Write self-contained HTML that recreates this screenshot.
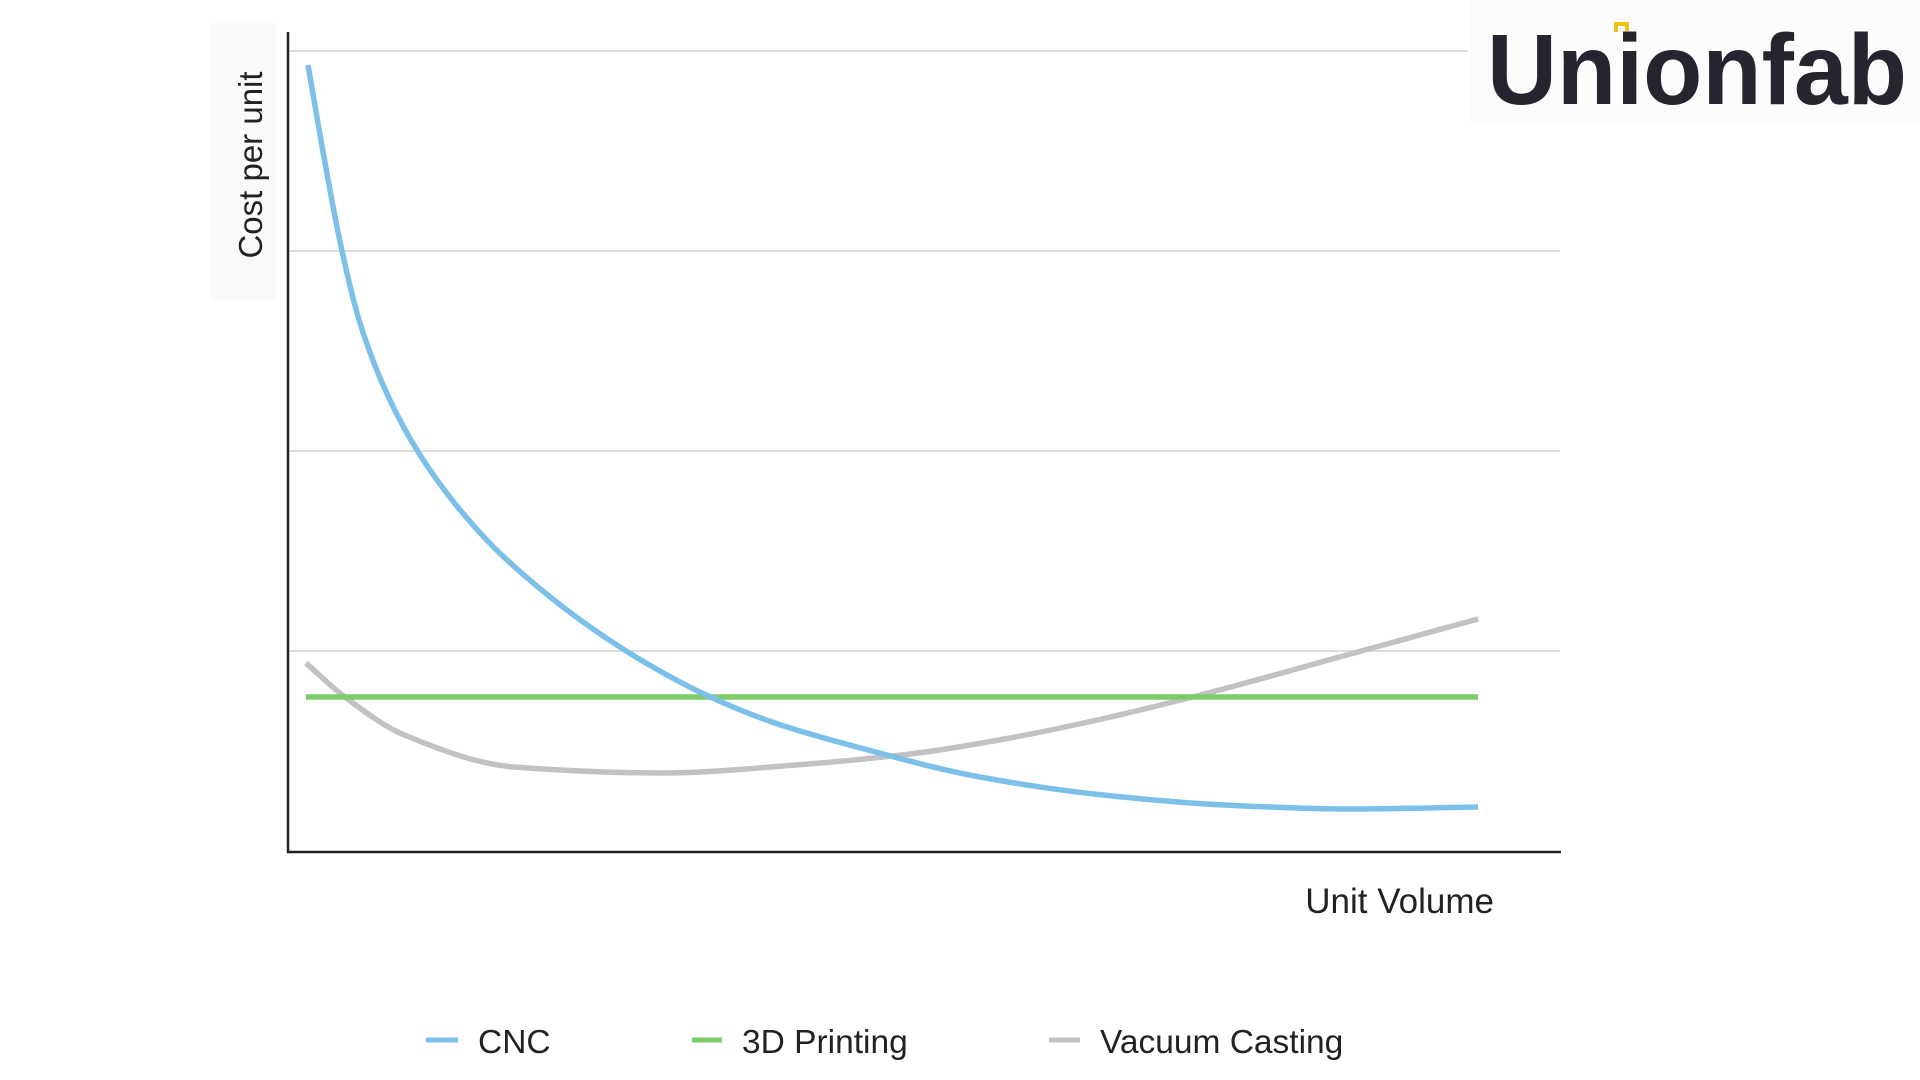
<!DOCTYPE html>
<html><head><meta charset="utf-8"><style>
html,body{margin:0;padding:0;background:#fff;width:1920px;height:1080px;overflow:hidden}
svg{display:block}
</style></head><body>
<svg id="chart" width="1920" height="1080" xmlns="http://www.w3.org/2000/svg" font-family="Liberation Sans, sans-serif">
<rect x="210" y="23" width="66" height="277" fill="#fafafa"/>
<rect x="1470" y="0" width="450" height="122" fill="#fcfcfd"/>
<g id="grid"></g>
<g id="series"></g>
<line x1="288" y1="32" x2="288" y2="853" stroke="#222" stroke-width="2.5"/>
<line x1="287" y1="852" x2="1561" y2="852" stroke="#222" stroke-width="2.5"/>
<text x="262" y="165" transform="rotate(-90 262 165)" text-anchor="middle" font-size="33" fill="#222">Cost per unit</text>
<text x="1494" y="913" text-anchor="end" font-size="35" fill="#222">Unit Volume</text>
<g>
<g><line x1="426" y1="1040" x2="458" y2="1040" stroke="#7cc0ea" stroke-width="5"/><text x="478" y="1053" font-size="33.5" fill="#222">CNC</text></g>
<g><line x1="692" y1="1040" x2="722" y2="1040" stroke="#7ccd6a" stroke-width="5"/><text x="742" y="1053" font-size="33.5" fill="#222">3D Printing</text></g>
<g><line x1="1049" y1="1040" x2="1080" y2="1040" stroke="#c2c2c2" stroke-width="5"/><text x="1100" y="1053" font-size="33.5" fill="#222">Vacuum Casting</text></g>
</g>
<g>
<text x="1487" y="104" font-size="100" font-weight="bold" fill="#25242f" textLength="420" lengthAdjust="spacingAndGlyphs">Unionfab</text>
<path d="M1616 32 v-8 h10 M1620 24 h7 v7" stroke="#f2c21a" stroke-width="4" fill="none"/>
</g>
</svg>
<script>
const cncX = [0.17,1.5,3,4.5,6.5,9,12,16,20,24,29,34.5,40,47,57.5,68,78.4,88.9,100];
const cncY = [3.93,3.48,3.02,2.66,2.34,2.05,1.79,1.52,1.31,1.13,0.94,0.77,0.64,0.52,0.37,0.28,0.23,0.21,0.22];
const printX = [0,100];
const printY = [0.77,0.77];
const vacX = [0,3.1,8.4,17.8,30.3,41.8,52.2,59.6,67.9,76.3,88.8,100];
const vacY = [0.94,0.78,0.58,0.42,0.39,0.43,0.49,0.56,0.66,0.78,0.98,1.16];
const gridVals = [1,2,3,4];
const NS='http://www.w3.org/2000/svg';
const sx = v => 306 + v*11.72;
const sy = v => 851 - v*200;
const grid = document.getElementById('grid');
gridVals.forEach(g=>{
  const l=document.createElementNS(NS,'line');
  l.setAttribute('x1',289);l.setAttribute('x2',g===4?1468:1560);
  l.setAttribute('y1',sy(g));l.setAttribute('y2',sy(g));
  l.setAttribute('stroke','#dcdcdc');l.setAttribute('stroke-width','2');
  
  
  grid.appendChild(l);
});
function pathFor(xs,ys){
  const X=xs.map(sx),Y=ys.map(sy),n=X.length;
  const d=[],m=new Array(n);
  for(let i=0;i<n-1;i++)d.push((Y[i+1]-Y[i])/(X[i+1]-X[i]));
  m[0]=d[0];m[n-1]=d[n-2];
  for(let i=1;i<n-1;i++){
    if(d[i-1]*d[i]<=0)m[i]=0;
    else{const w1=2*(X[i+1]-X[i])+(X[i]-X[i-1]),w2=(X[i+1]-X[i])+2*(X[i]-X[i-1]);
      m[i]=(w1+w2)/(w1/d[i-1]+w2/d[i]);}
  }
  let s='M'+X[0]+','+Y[0];
  for(let i=0;i<n-1;i++){
    const h=(X[i+1]-X[i])/3;
    s+=' C'+(X[i]+h)+','+(Y[i]+m[i]*h)+' '+(X[i+1]-h)+','+(Y[i+1]-m[i+1]*h)+' '+X[i+1]+','+Y[i+1];
  }
  return s;
}
const series=document.getElementById('series');
function add(xs,ys,color,name){
  const e=document.createElementNS(NS,'path');
  e.setAttribute('d',pathFor(xs,ys));
  e.setAttribute('fill','none');e.setAttribute('stroke',color);e.setAttribute('stroke-width','5.5');
  
  
  series.appendChild(e);
}
add(vacX,vacY,'#c2c2c2','vacuum-casting-line');
add(printX,printY,'#7ccd6a','3d-printing-line');
add(cncX,cncY,'#7cc0ea','cnc-line');
</script>
</body></html>
